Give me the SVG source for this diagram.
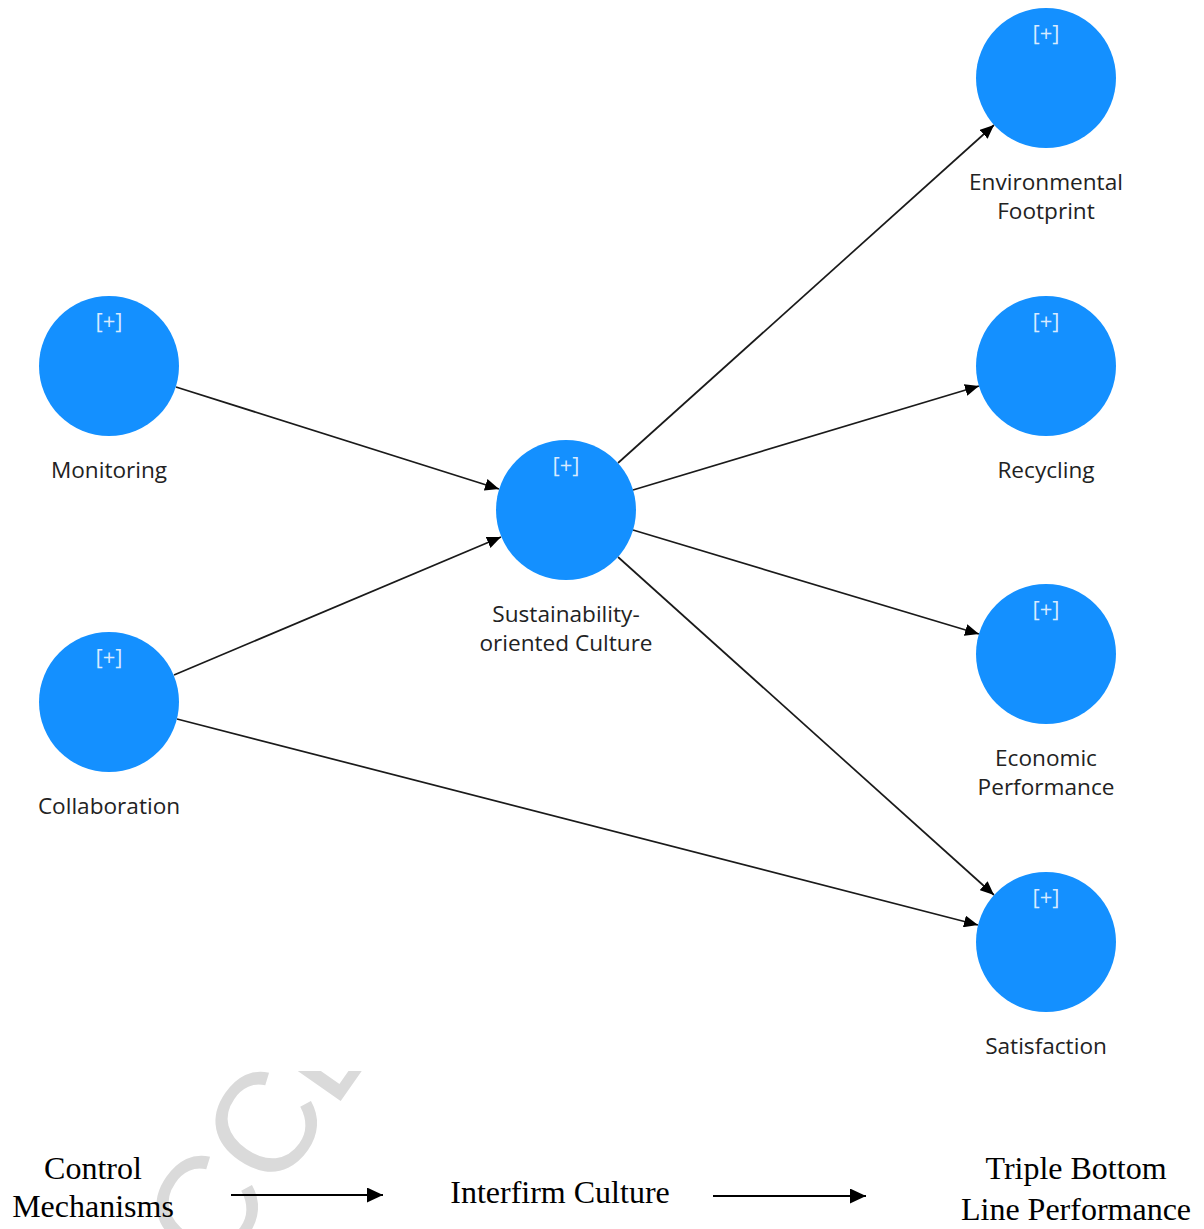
<svg xmlns="http://www.w3.org/2000/svg" width="1204" height="1229" viewBox="0 0 1204 1229">
<defs>
<style>
.node{fill:#1490ff;}
.plus{font-family:"Open Sans","Noto Sans",sans-serif;font-size:22px;fill:#d8eaff;text-anchor:middle;}
.lbl{font-family:"Open Sans","Noto Sans",sans-serif;font-size:22.6px;fill:#222;text-anchor:middle;}
.edge{stroke:#1a1a1a;stroke-width:1.7;fill:none;marker-end:url(#ah);}
.leg{font-family:"Liberation Serif","Times New Roman",serif;font-size:32px;fill:#000;text-anchor:middle;}
.legline{stroke:#000;stroke-width:2;fill:none;marker-end:url(#ah2);}
.wm{font-family:"Liberation Sans",Arial,sans-serif;font-size:142px;fill:#dadada;}
</style>
<marker id="ah" viewBox="0 0 14 12" refX="14" refY="6" markerWidth="14" markerHeight="12" markerUnits="userSpaceOnUse" orient="auto">
<path d="M0,0 L14,6 L0,12 Z" fill="#000"/>
</marker>
<marker id="ah2" viewBox="0 0 16 15" refX="16" refY="7.5" markerWidth="16" markerHeight="15" markerUnits="userSpaceOnUse" orient="auto">
<path d="M0,0 L16,7.5 L0,15 Z" fill="#000"/>
</marker>
<clipPath id="wmclip"><rect x="0" y="1071" width="1204" height="158"/></clipPath>
</defs>
<rect width="1204" height="1229" fill="#fff"/>
<g id="watermark" clip-path="url(#wmclip)">
<text class="wm" transform="translate(162,1356) rotate(-55)">ACCEPTED</text>
</g>
<g id="connectors">
<line class="edge" x1="176" y1="387" x2="499" y2="489"/>
<line class="edge" x1="174" y1="675" x2="501" y2="537"/>
<line class="edge" x1="177" y1="719" x2="978" y2="925"/>
<line class="edge" x1="618" y1="463" x2="994" y2="125"/>
<line class="edge" x1="633" y1="490" x2="979" y2="386"/>
<line class="edge" x1="633" y1="530" x2="979" y2="634"/>
<line class="edge" x1="618" y1="557" x2="994" y2="895"/>
</g>
<g id="node-environmental">
<circle class="node" cx="1046" cy="78" r="70"/>
<text class="plus" x="1046" y="41">[+]</text>
<text class="lbl" x="1046" y="190">Environmental</text>
<text class="lbl" x="1046" y="219">Footprint</text>
</g>
<g id="node-recycling">
<circle class="node" cx="1046" cy="366" r="70"/>
<text class="plus" x="1046" y="329">[+]</text>
<text class="lbl" x="1046" y="478">Recycling</text>
</g>
<g id="node-economic">
<circle class="node" cx="1046" cy="654" r="70"/>
<text class="plus" x="1046" y="617">[+]</text>
<text class="lbl" x="1046" y="766">Economic</text>
<text class="lbl" x="1046" y="795">Performance</text>
</g>
<g id="node-satisfaction">
<circle class="node" cx="1046" cy="942" r="70"/>
<text class="plus" x="1046" y="905">[+]</text>
<text class="lbl" x="1046" y="1054">Satisfaction</text>
</g>
<g id="node-monitoring">
<circle class="node" cx="109" cy="366" r="70"/>
<text class="plus" x="109" y="329">[+]</text>
<text class="lbl" x="109" y="478">Monitoring</text>
</g>
<g id="node-collaboration">
<circle class="node" cx="109" cy="702" r="70"/>
<text class="plus" x="109" y="665">[+]</text>
<text class="lbl" x="109" y="814">Collaboration</text>
</g>
<g id="node-sustainability">
<circle class="node" cx="566" cy="510" r="70"/>
<text class="plus" x="566" y="473">[+]</text>
<text class="lbl" x="566" y="622">Sustainability-</text>
<text class="lbl" x="566" y="651">oriented Culture</text>
</g>
<g id="legend">
<text class="leg" x="93" y="1179">Control</text>
<text class="leg" x="93" y="1217">Mechanisms</text>
<line class="legline" x1="231" y1="1195" x2="383" y2="1195"/>
<text class="leg" x="560" y="1203">Interfirm Culture</text>
<line class="legline" x1="713" y1="1196" x2="866" y2="1196"/>
<text class="leg" x="1076" y="1179">Triple Bottom</text>
<text class="leg" x="1076" y="1220">Line Performance</text>
</g>
</svg>
